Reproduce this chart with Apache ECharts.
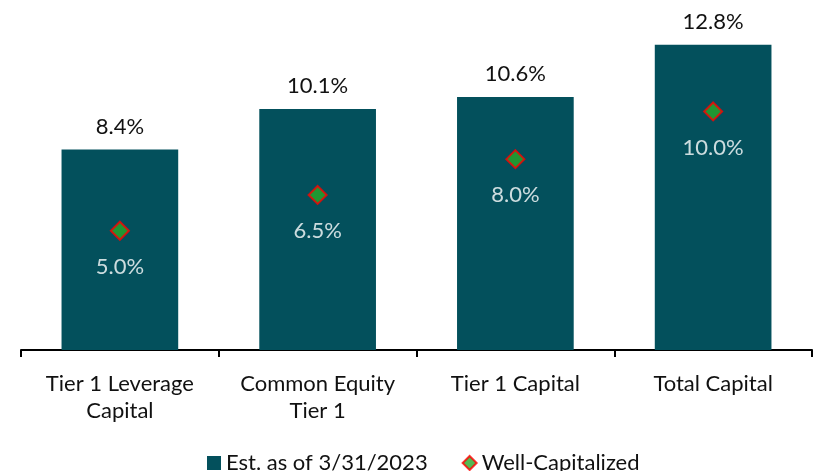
<!DOCTYPE html>
<html>
<head>
<meta charset="utf-8">
<script src="https://cdn.jsdelivr.net/npm/echarts@6/dist/echarts.min.js"></script>
<style>
  html, body { margin: 0; padding: 0; background: #fff; }
  #chart { width: 813px; height: 471px; }
</style>
</head>
<body>
<div id="chart"></div>
<script>
var categories = ['Tier 1 Leverage\nCapital', 'Common Equity\nTier 1', 'Tier 1 Capital', 'Total Capital'];
var estimated = [8.4, 10.1, 10.6, 12.8];
var wellCapitalized = [5.0, 6.5, 8.0, 10.0];

var myChart = echarts.init(document.getElementById('chart'));
var fontFam = 'Lato';

var option = {
    animation: false,
    textStyle: { fontFamily: fontFam },
    grid: { left: 21, right: 1, top: 16, bottom: 121 },
    legend: {
        top: 447,
        left: 202,
        itemWidth: 14,
        itemHeight: 14,
        itemGap: 34,
        textStyle: { fontSize: 22, color: '#111', fontFamily: fontFam },
        data: [
            { name: 'Est. as of 3/31/2023', icon: 'rect' },
            { name: 'Well-Capitalized', icon: 'diamond' }
        ]
    },
    xAxis: {
        type: 'category',
        data: categories,
        axisLine: { lineStyle: { color: '#000', width: 2 } },
        axisTick: { show: true, interval: 0, length: 7, lineStyle: { color: '#000', width: 2 } },
        axisLabel: { interval: 0, fontSize: 22, color: '#111', lineHeight: 27, margin: 20, fontFamily: fontFam }
    },
    yAxis: {
        type: 'value',
        min: 0,
        max: 14,
        show: false,
        splitLine: { show: false }
    },
    series: [
        {
            name: 'Est. as of 3/31/2023',
            type: 'bar',
            data: estimated,
            barWidth: '59%',
            itemStyle: { color: '#03505C' },
            label: {
                show: true,
                position: 'top',
                distance: 12,
                fontSize: 22,
                color: '#111',
                fontFamily: fontFam,
                formatter: function (p) { return p.value.toFixed(1) + '%'; }
            }
        },
        {
            name: 'Well-Capitalized',
            type: 'scatter',
            data: wellCapitalized,
            symbol: 'diamond',
            symbolSize: 18,
            itemStyle: { color: '#28A828', borderColor: '#FF0000', borderWidth: 2 },
            z: 3,
            label: {
                show: true,
                position: 'bottom',
                distance: 15,
                fontSize: 22,
                color: '#ffffff',
                fontFamily: fontFam,
                formatter: function (p) { return p.value.toFixed(1) + '%'; }
            }
        }
    ]
};

myChart.setOption(option);
</script>
</body>
</html>
